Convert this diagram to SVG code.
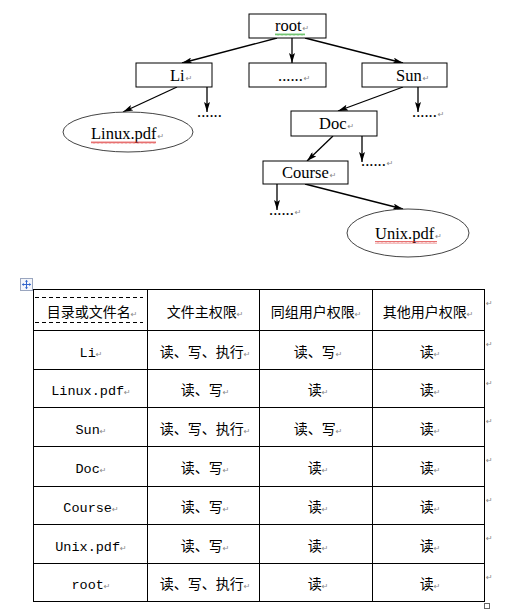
<svg xmlns="http://www.w3.org/2000/svg" width="527" height="610" viewBox="0 0 527 610">
<style>
.box{fill:#fff;stroke:#000;stroke-width:1}
.ell{fill:#fff;stroke:#444;stroke-width:1}
.tt{font-family:"Liberation Serif","Times New Roman",serif;font-size:16.5px;fill:#000}
.pm{font-family:"DejaVu Sans",sans-serif;font-size:8px;fill:#888}
.cn{font-family:"Liberation Mono","Noto Sans CJK SC",monospace;font-size:14px;fill:#000;text-anchor:middle}
.lat{font-family:"Liberation Mono",monospace;font-size:13.5px}
.grid{stroke:#000;stroke-width:1;fill:none}
.con{stroke:#000;stroke-width:1.3;fill:none;marker-end:url(#ah)}
</style>
<defs>
<marker id="ah" viewBox="0 0 10 6" refX="10" refY="3" markerWidth="10" markerHeight="6" markerUnits="userSpaceOnUse" orient="auto">
<path d="M0,0 L10,3 L0,6 L2,3 z" fill="#000"/>
</marker>
<pattern id="wr" width="4" height="3" patternUnits="userSpaceOnUse"><path d="M0,2.5 L1,0.5 L2,2.5 L3,0.5 L4,2.5" fill="none" stroke="#d33" stroke-width="0.7"/></pattern>
<pattern id="wg" width="4" height="3" patternUnits="userSpaceOnUse"><path d="M0,2.5 L1,0.5 L2,2.5 L3,0.5 L4,2.5" fill="none" stroke="#3a3" stroke-width="0.7"/></pattern>
</defs>
<rect width="527" height="610" fill="#fff"/>

<g id="connectors">
<line class="con" x1="277" y1="38" x2="182" y2="63"/>
<line class="con" x1="292" y1="38" x2="292" y2="63"/>
<line class="con" x1="305" y1="38" x2="403" y2="63"/>
<line class="con" x1="177" y1="87" x2="123" y2="112"/>
<line class="con" x1="207" y1="87" x2="207" y2="112"/>
<line class="con" x1="403" y1="87" x2="338" y2="111"/>
<line class="con" x1="418" y1="87" x2="418" y2="112"/>
<line class="con" x1="333" y1="136" x2="307" y2="161"/>
<line class="con" x1="362" y1="136" x2="362" y2="162"/>
<line class="con" x1="277" y1="184" x2="277" y2="210"/>
<line class="con" x1="305" y1="184" x2="403" y2="209"/>
</g>

<g id="root">
<rect class="box" x="249" y="14" width="77" height="24"/>
<text class="tt" x="275" y="31">root<tspan class="pm" dx="1">↵</tspan></text>
<rect x="275" y="33" width="30" height="3" fill="url(#wg)"/>
</g>
<g id="li">
<rect class="box" x="136" y="63" width="76" height="24"/>
<text class="tt" x="170" y="81">Li<tspan class="pm" dx="1">↵</tspan></text>
</g>
<g id="more1">
<rect class="box" x="249" y="63" width="77" height="24"/>
<text class="tt" x="278" y="81">......<tspan class="pm" dx="1">↵</tspan></text>
</g>
<g id="sun">
<rect class="box" x="362" y="63" width="85" height="24"/>
<text class="tt" x="396" y="81">Sun<tspan class="pm" dx="1">↵</tspan></text>
</g>
<g id="linux">
<ellipse class="ell" cx="128" cy="132" rx="65" ry="20"/>
<text class="tt" x="91" y="139">Linux.pdf<tspan class="pm" dx="1">↵</tspan></text>
<rect x="91" y="141" width="65" height="3" fill="url(#wr)"/>
</g>
<g id="li-more">
<text class="tt" x="197" y="117">......</text>
</g>
<g id="sun-more">
<text class="tt" x="412" y="117">......<tspan class="pm" dx="1">↵</tspan></text>
</g>
<g id="doc">
<rect class="box" x="291" y="111" width="86" height="25"/>
<text class="tt" x="319" y="129">Doc<tspan class="pm" dx="1">↵</tspan></text>
</g>
<g id="doc-more">
<text class="tt" x="361" y="166">......<tspan class="pm" dx="1">↵</tspan></text>
</g>
<g id="course">
<rect class="box" x="263" y="161" width="85" height="23"/>
<text class="tt" x="282" y="178">Course<tspan class="pm" dx="1">↵</tspan></text>
</g>
<g id="course-more">
<text class="tt" x="269" y="215">......<tspan class="pm" dx="1">↵</tspan></text>
</g>
<g id="unix">
<ellipse class="ell" cx="408" cy="233" rx="61" ry="24"/>
<text class="tt" x="375" y="239">Unix.pdf<tspan class="pm" dx="1">↵</tspan></text>
<rect x="375" y="241" width="62" height="3" fill="url(#wr)"/>
</g>

<g id="move-icon">
<rect x="20.5" y="278.5" width="12" height="12" fill="#f4f6fb" stroke="#9aa6bf" stroke-width="1"/>
<path d="M26.5,280.5 L26.5,288.5 M22.5,284.5 L30.5,284.5" stroke="#3366cc" stroke-width="1"/>
<path d="M26.5,279.8 L25,281.8 L28,281.8 z M26.5,289.2 L25,287.2 L28,287.2 z M21.8,284.5 L23.8,283 L23.8,286 z M31.2,284.5 L29.2,283 L29.2,286 z" fill="#3366cc"/>
</g>

<g id="table">
<rect class="grid" x="33.5" y="289.5" width="451" height="312"/>
<path class="grid" d="M147.5,289.5 V601.5 M259.5,289.5 V601.5 M372.5,289.5 V601.5 M33.5,330.5 H484.5 M33.5,369.5 H484.5 M33.5,407.5 H484.5 M33.5,446.5 H484.5 M33.5,486.5 H484.5 M33.5,524.5 H484.5 M33.5,563.5 H484.5"/>
<path d="M35,297.5 H143 M35,322.5 H143" stroke="#000" stroke-width="1" stroke-dasharray="4,3" fill="none"/>
<rect x="484.5" y="603.5" width="5" height="5" fill="#fff" stroke="#666" stroke-width="1"/>

<text class="cn" x="92" y="317">目录或文件名<tspan class="pm">↵</tspan></text>
<text class="cn" x="205" y="317">文件主权限<tspan class="pm">↵</tspan></text>
<text class="cn" x="316" y="317">同组用户权限<tspan class="pm">↵</tspan></text>
<text class="cn" x="428" y="317">其他用户权限<tspan class="pm">↵</tspan></text>

<text class="cn lat" x="91" y="357">Li<tspan class="pm">↵</tspan></text>
<text class="cn" x="205" y="357">读、写、执行<tspan class="pm">↵</tspan></text>
<text class="cn" x="318" y="357">读、写<tspan class="pm">↵</tspan></text>
<text class="cn" x="430" y="357">读<tspan class="pm">↵</tspan></text>

<text class="cn lat" x="91" y="395">Linux.pdf<tspan class="pm">↵</tspan></text>
<text class="cn" x="205" y="395">读、写<tspan class="pm">↵</tspan></text>
<text class="cn" x="318" y="395">读<tspan class="pm">↵</tspan></text>
<text class="cn" x="430" y="395">读<tspan class="pm">↵</tspan></text>

<text class="cn lat" x="91" y="434">Sun<tspan class="pm">↵</tspan></text>
<text class="cn" x="205" y="434">读、写、执行<tspan class="pm">↵</tspan></text>
<text class="cn" x="318" y="434">读、写<tspan class="pm">↵</tspan></text>
<text class="cn" x="430" y="434">读<tspan class="pm">↵</tspan></text>

<text class="cn lat" x="91" y="473">Doc<tspan class="pm">↵</tspan></text>
<text class="cn" x="205" y="473">读、写<tspan class="pm">↵</tspan></text>
<text class="cn" x="318" y="473">读<tspan class="pm">↵</tspan></text>
<text class="cn" x="430" y="473">读<tspan class="pm">↵</tspan></text>

<text class="cn lat" x="91" y="512">Course<tspan class="pm">↵</tspan></text>
<text class="cn" x="205" y="512">读、写<tspan class="pm">↵</tspan></text>
<text class="cn" x="318" y="512">读<tspan class="pm">↵</tspan></text>
<text class="cn" x="430" y="512">读<tspan class="pm">↵</tspan></text>

<text class="cn lat" x="91" y="551">Unix.pdf<tspan class="pm">↵</tspan></text>
<text class="cn" x="205" y="551">读、写<tspan class="pm">↵</tspan></text>
<text class="cn" x="318" y="551">读<tspan class="pm">↵</tspan></text>
<text class="cn" x="430" y="551">读<tspan class="pm">↵</tspan></text>

<text class="cn lat" x="91" y="589">root<tspan class="pm">↵</tspan></text>
<text class="cn" x="205" y="589">读、写、执行<tspan class="pm">↵</tspan></text>
<text class="cn" x="318" y="589">读<tspan class="pm">↵</tspan></text>
<text class="cn" x="430" y="589">读<tspan class="pm">↵</tspan></text>

<g class="pm">
<text x="486" y="306">↵</text>
<text x="486" y="347">↵</text>
<text x="486" y="386">↵</text>
<text x="486" y="424">↵</text>
<text x="486" y="463">↵</text>
<text x="486" y="503">↵</text>
<text x="486" y="541">↵</text>
<text x="486" y="580">↵</text>
</g>
</g>
</svg>
